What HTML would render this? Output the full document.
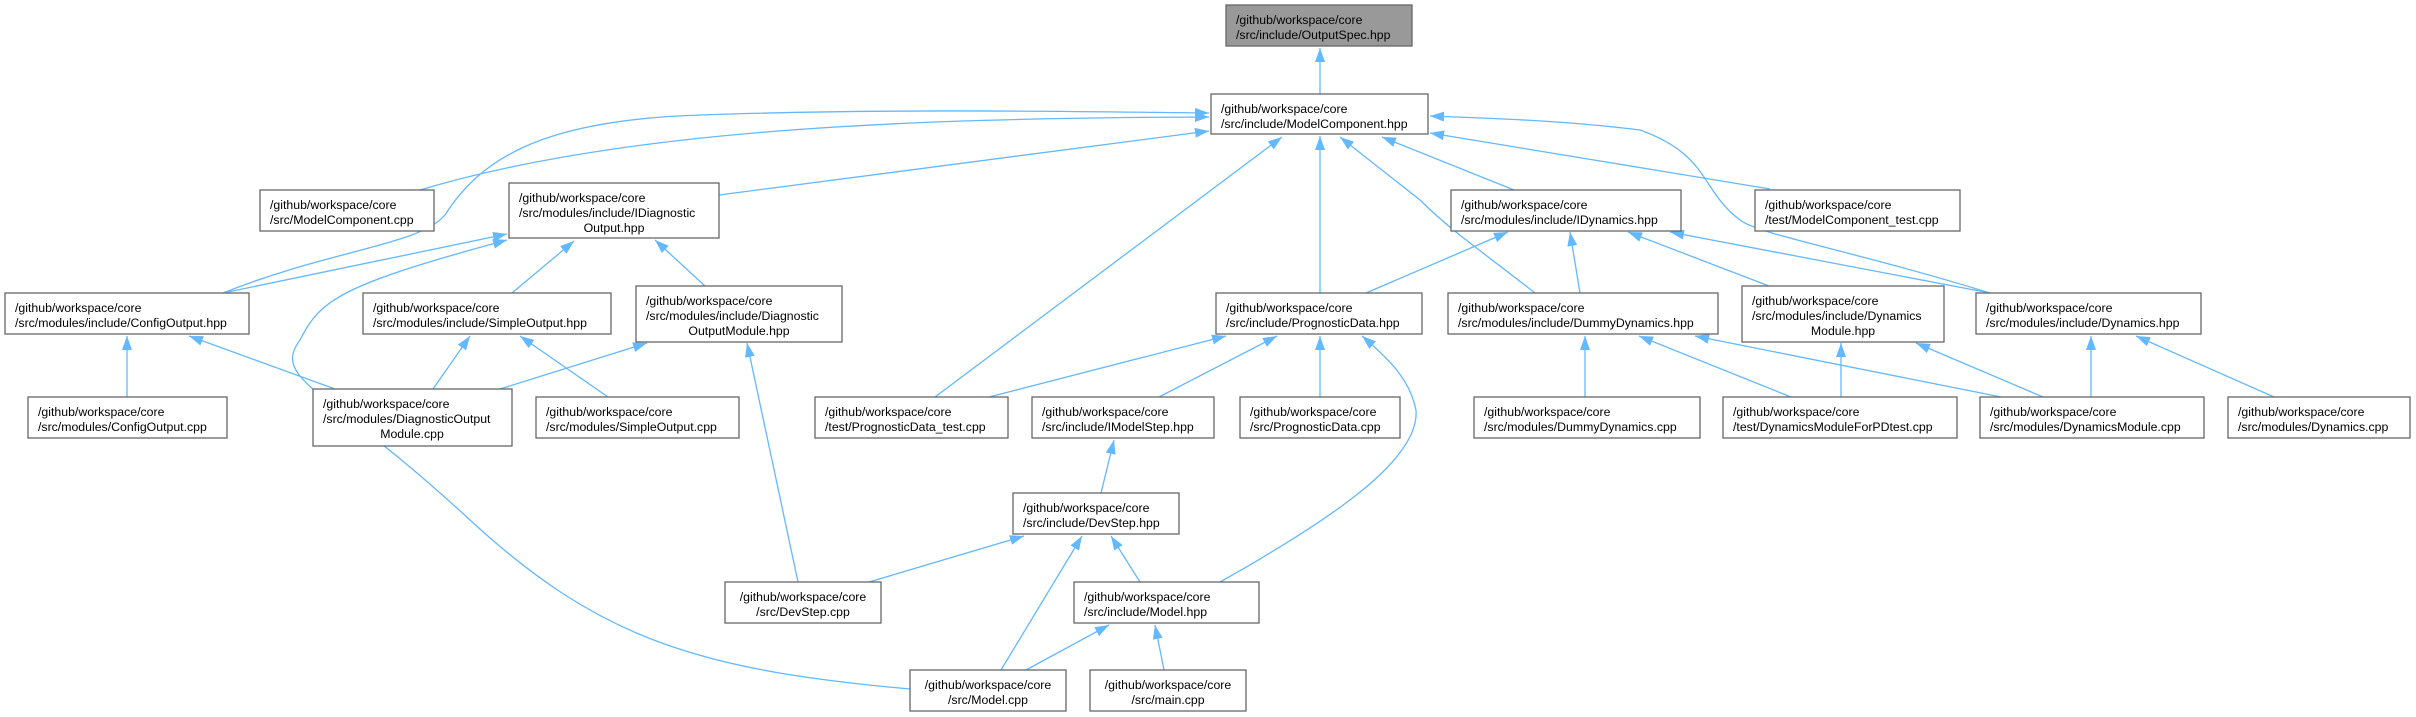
<!DOCTYPE html>
<html><head><meta charset="utf-8"><style>
html,body{margin:0;padding:0;background:#fff;}
svg{display:block}
text{font-family:"Liberation Sans",Arial,sans-serif;font-size:12.3px;fill:#000}
.b{fill:#fff;stroke:#666;stroke-width:1.3}
.e{fill:none;stroke:#63b8ff;stroke-width:1.3;marker-end:url(#a)}
</style></head><body>
<svg width="2416" height="717" viewBox="0 0 2416 717" xmlns="http://www.w3.org/2000/svg">
<defs><marker id="a" markerUnits="userSpaceOnUse" markerWidth="16" markerHeight="12" refX="14" refY="5" orient="auto"><path d="M0,0 L14,5 L0,10 Z" fill="#63b8ff"/></marker></defs>

<!-- edges -->
<path class="e" d="M1320,94 L1320,48"/>
<path class="e" d="M420,190 C620,130 900,118 1209,117"/>
<path class="e" d="M223,293 C330,250 420,245 445,215 C480,160 540,120 700,115 C900,108 1100,112 1209,113"/>
<path class="e" d="M719,195 L1209,131"/>
<path class="e" d="M1514,190 L1382,137"/>
<path class="e" d="M1770,189 L1430,133"/>
<path class="e" d="M1990,293 C1850,250 1760,235 1740,220 C1700,190 1710,155 1640,130 C1560,120 1480,118 1430,116"/>
<path class="e" d="M1320,293 L1320,136"/>
<path class="e" d="M1535,293 C1480,250 1450,230 1420,200 L1340,137"/>
<path class="e" d="M935,397 L1282,137"/>
<path class="e" d="M223,293 L507,234"/>
<path class="e" d="M910,689 C700,670 600,640 470,520 C330,390 270,380 300,340 C320,300 340,285 507,240"/>
<path class="e" d="M512,293 L574,241"/>
<path class="e" d="M705,286 L655,240"/>
<path class="e" d="M127,397 L127,336"/>
<path class="e" d="M335,389 L189,336"/>
<path class="e" d="M433,389 L470,336"/>
<path class="e" d="M608,397 L520,336"/>
<path class="e" d="M500,389 L647,343"/>
<path class="e" d="M798,582 L747,343"/>
<path class="e" d="M989,397 L1226,336"/>
<path class="e" d="M1159,397 L1277,336"/>
<path class="e" d="M1320,397 L1320,336"/>
<path class="e" d="M1220,582 C1330,520 1420,460 1416,410 C1410,380 1390,360 1362,336"/>
<path class="e" d="M1366,293 L1508,232"/>
<path class="e" d="M1580,293 L1570,232"/>
<path class="e" d="M1769,286 L1628,232"/>
<path class="e" d="M1990,293 L1670,232"/>
<path class="e" d="M1585,397 L1585,336"/>
<path class="e" d="M1791,397 L1639,336"/>
<path class="e" d="M2001,397 L1695,336"/>
<path class="e" d="M1841,397 L1841,343"/>
<path class="e" d="M2043,397 L1916,343"/>
<path class="e" d="M2091,397 L2091,336"/>
<path class="e" d="M2274,397 L2136,336"/>
<path class="e" d="M1101,493 L1114,440"/>
<path class="e" d="M869,582 L1024,536"/>
<path class="e" d="M1001,670 L1082,536"/>
<path class="e" d="M1140,582 L1111,536"/>
<path class="e" d="M1026,670 L1109,625"/>
<path class="e" d="M1164,670 L1155,625"/>

<!-- nodes -->
<rect x="1226" y="5" width="186" height="41" fill="#999" stroke="#666" stroke-width="1.3"/>
<text x="1236" y="24">/github/workspace/core</text><text x="1236" y="39">/src/include/OutputSpec.hpp</text>

<rect class="b" x="1211" y="94" width="217" height="40"/>
<text x="1221" y="113">/github/workspace/core</text><text x="1221" y="128">/src/include/ModelComponent.hpp</text>

<rect class="b" x="260" y="190" width="174" height="41"/>
<text x="270" y="209">/github/workspace/core</text><text x="270" y="224">/src/ModelComponent.cpp</text>

<rect class="b" x="509" y="183" width="210" height="55"/>
<text x="519" y="202">/github/workspace/core</text><text x="519" y="217">/src/modules/include/IDiagnostic</text><text x="614" y="232" text-anchor="middle">Output.hpp</text>

<rect class="b" x="1451" y="190" width="230" height="41"/>
<text x="1461" y="209">/github/workspace/core</text><text x="1461" y="224">/src/modules/include/IDynamics.hpp</text>

<rect class="b" x="1755" y="190" width="205" height="41"/>
<text x="1765" y="209">/github/workspace/core</text><text x="1765" y="224">/test/ModelComponent_test.cpp</text>

<rect class="b" x="5" y="293" width="244" height="41"/>
<text x="15" y="312">/github/workspace/core</text><text x="15" y="327">/src/modules/include/ConfigOutput.hpp</text>

<rect class="b" x="363" y="293" width="248" height="41"/>
<text x="373" y="312">/github/workspace/core</text><text x="373" y="327">/src/modules/include/SimpleOutput.hpp</text>

<rect class="b" x="636" y="286" width="206" height="56"/>
<text x="646" y="305">/github/workspace/core</text><text x="646" y="320">/src/modules/include/Diagnostic</text><text x="739" y="335" text-anchor="middle">OutputModule.hpp</text>

<rect class="b" x="1216" y="293" width="206" height="41"/>
<text x="1226" y="312">/github/workspace/core</text><text x="1226" y="327">/src/include/PrognosticData.hpp</text>

<rect class="b" x="1448" y="293" width="270" height="41"/>
<text x="1458" y="312">/github/workspace/core</text><text x="1458" y="327">/src/modules/include/DummyDynamics.hpp</text>

<rect class="b" x="1742" y="286" width="202" height="56"/>
<text x="1752" y="305">/github/workspace/core</text><text x="1752" y="320">/src/modules/include/Dynamics</text><text x="1843" y="335" text-anchor="middle">Module.hpp</text>

<rect class="b" x="1976" y="293" width="225" height="41"/>
<text x="1986" y="312">/github/workspace/core</text><text x="1986" y="327">/src/modules/include/Dynamics.hpp</text>

<rect class="b" x="28" y="397" width="199" height="41"/>
<text x="38" y="416">/github/workspace/core</text><text x="38" y="431">/src/modules/ConfigOutput.cpp</text>

<rect class="b" x="313" y="389" width="199" height="57"/>
<text x="323" y="408">/github/workspace/core</text><text x="323" y="423">/src/modules/DiagnosticOutput</text><text x="412" y="438" text-anchor="middle">Module.cpp</text>

<rect class="b" x="536" y="397" width="203" height="41"/>
<text x="546" y="416">/github/workspace/core</text><text x="546" y="431">/src/modules/SimpleOutput.cpp</text>

<rect class="b" x="815" y="397" width="193" height="41"/>
<text x="825" y="416">/github/workspace/core</text><text x="825" y="431">/test/PrognosticData_test.cpp</text>

<rect class="b" x="1032" y="397" width="182" height="41"/>
<text x="1042" y="416">/github/workspace/core</text><text x="1042" y="431">/src/include/IModelStep.hpp</text>

<rect class="b" x="1240" y="397" width="160" height="41"/>
<text x="1250" y="416">/github/workspace/core</text><text x="1250" y="431">/src/PrognosticData.cpp</text>

<rect class="b" x="1474" y="397" width="226" height="41"/>
<text x="1484" y="416">/github/workspace/core</text><text x="1484" y="431">/src/modules/DummyDynamics.cpp</text>

<rect class="b" x="1723" y="397" width="234" height="41"/>
<text x="1733" y="416">/github/workspace/core</text><text x="1733" y="431">/test/DynamicsModuleForPDtest.cpp</text>

<rect class="b" x="1980" y="397" width="224" height="41"/>
<text x="1990" y="416">/github/workspace/core</text><text x="1990" y="431">/src/modules/DynamicsModule.cpp</text>

<rect class="b" x="2228" y="397" width="182" height="41"/>
<text x="2238" y="416">/github/workspace/core</text><text x="2238" y="431">/src/modules/Dynamics.cpp</text>

<rect class="b" x="1013" y="493" width="166" height="41"/>
<text x="1023" y="512">/github/workspace/core</text><text x="1023" y="527">/src/include/DevStep.hpp</text>

<rect class="b" x="725" y="582" width="156" height="41"/>
<text x="803" y="601" text-anchor="middle">/github/workspace/core</text><text x="803" y="616" text-anchor="middle">/src/DevStep.cpp</text>

<rect class="b" x="1074" y="582" width="185" height="41"/>
<text x="1084" y="601">/github/workspace/core</text><text x="1084" y="616">/src/include/Model.hpp</text>

<rect class="b" x="910" y="670" width="156" height="41"/>
<text x="988" y="689" text-anchor="middle">/github/workspace/core</text><text x="988" y="704" text-anchor="middle">/src/Model.cpp</text>

<rect class="b" x="1090" y="670" width="156" height="41"/>
<text x="1168" y="689" text-anchor="middle">/github/workspace/core</text><text x="1168" y="704" text-anchor="middle">/src/main.cpp</text>
</svg>
</body></html>
